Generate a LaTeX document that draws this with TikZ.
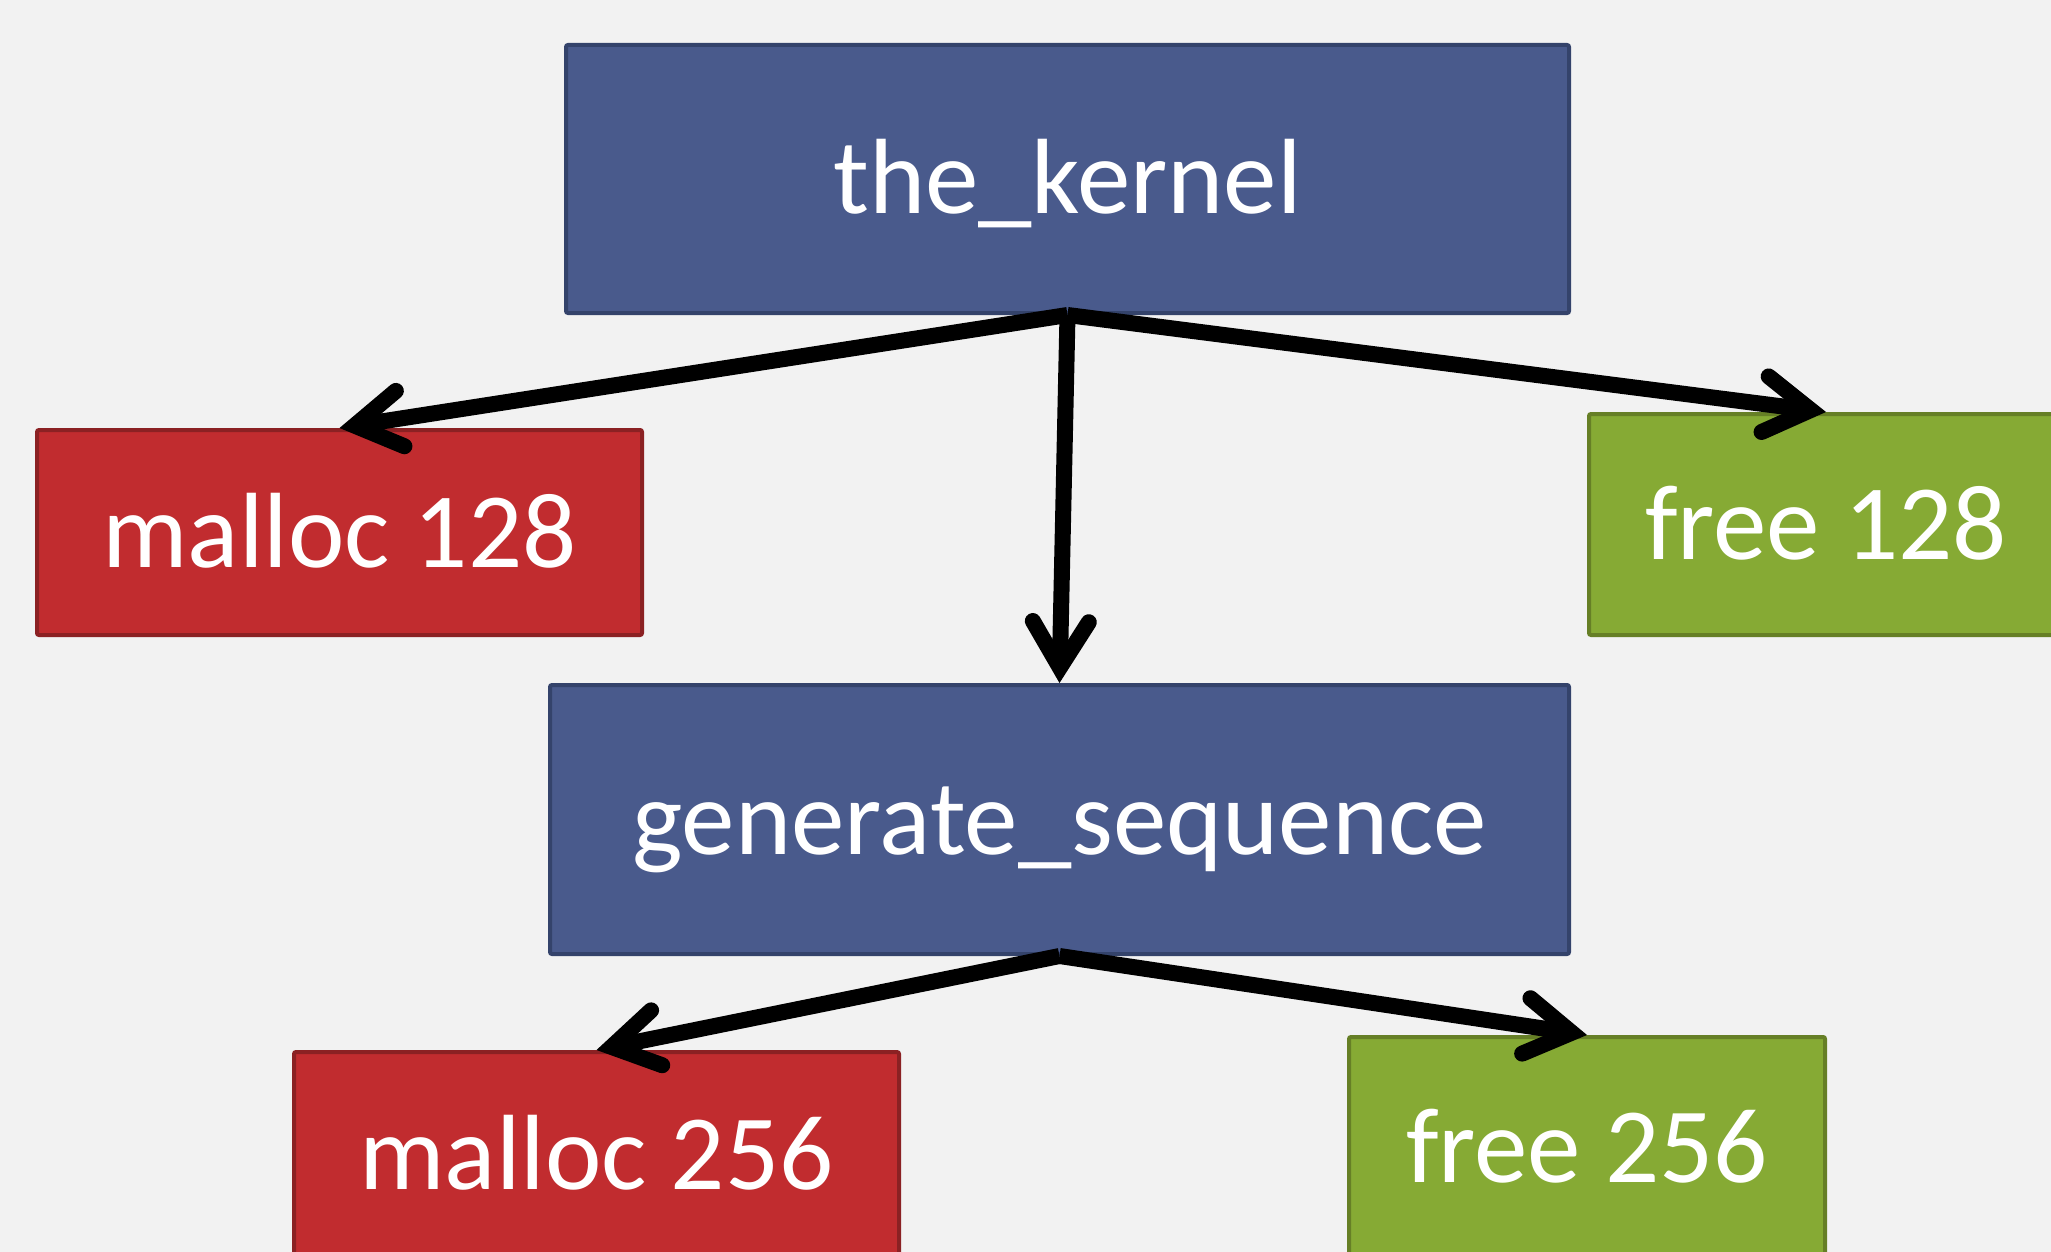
\documentclass[tikz,border=0pt]{standalone}
\usepackage{fontspec}
\setmainfont{Carlito}
\usetikzlibrary{arrows.meta}
\definecolor{bgc}{HTML}{F2F2F2}
\definecolor{bluef}{HTML}{495A8C}
\definecolor{blued}{HTML}{34436B}
\definecolor{redf}{HTML}{C12C2F}
\definecolor{redd}{HTML}{8B2123}
\definecolor{greenf}{HTML}{86AA34}
\definecolor{greend}{HTML}{667F26}
\tikzset{
  box/.style={rectangle, line width=4pt, rounded corners=2pt, inner sep=0pt,
    text=white, font=\fontsize{107}{120}\selectfont, text height=80pt, text depth=10pt},
  bluebox/.style={box, fill=bluef, draw=blued},
  redbox/.style={box, fill=redf, draw=redd},
  greenbox/.style={box, fill=greenf, draw=greend},
  arr/.style={line width=16pt, -{Straight Barb[length=46pt,width=56pt,line cap=round,line join=miter]}},
}
\begin{document}
\begin{tikzpicture}[x=1pt,y=-1pt]
\fill[bgc] (0,0) rectangle (2051,1252);
\useasboundingbox (0,0) rectangle (2051,1252);
\clip (0,0) rectangle (2051,1252);
\node[bluebox, minimum width=1003pt, minimum height=268pt] (kernel) at (1067.5,179) {the\_kernel};
\node[redbox, minimum width=605pt, minimum height=205pt] (m128) at (339.5,532.5) {malloc 128};
\node[greenbox, minimum width=474pt, minimum height=221pt] (f128) at (1826,524.5) {free 128};
\node[bluebox, minimum width=1019pt, minimum height=269pt] (gen) at (1059.5,819.5) {generate\_sequence};
\node[redbox, minimum width=605pt, minimum height=205pt] (m256) at (596.5,1154.5) {malloc 256};
\node[greenbox, minimum width=476pt, minimum height=221pt] (f256) at (1587,1147.5) {free 256};
\draw[arr] (kernel.south) -- (m128.north);
\draw[arr] (kernel.south) -- (gen.north);
\draw[arr] (kernel.south) -- (f128.north);
\draw[arr] (gen.south) -- (m256.north);
\draw[arr] (gen.south) -- (f256.north);
\end{tikzpicture}
\end{document}
